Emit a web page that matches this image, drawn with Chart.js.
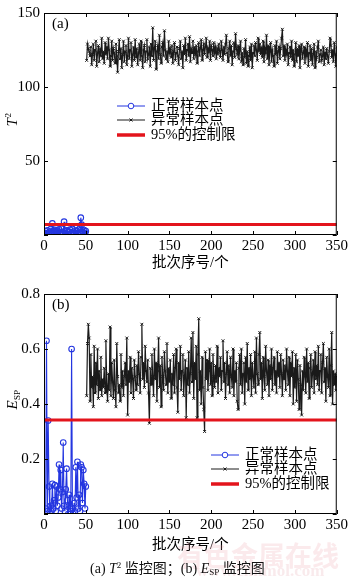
<!DOCTYPE html>
<html>
<head>
<meta charset="utf-8">
<script src="https://cdn.jsdelivr.net/npm/chart.js@4.4.1/dist/chart.umd.min.js"></script>
<style>
  body { margin: 0; width: 350px; height: 580px; background: #fff; position: relative; overflow: hidden;
         font-family: "Liberation Serif", "Noto Sans CJK SC", serif; }
  canvas { position: absolute; left: 0; }
  #t2Chart { top: 0; }
  #espChart { top: 281px; }
  .mark { position: absolute; left: 177px; top: 535px; font-size: 27px; font-weight: bold; letter-spacing: 0;
          color: rgba(235, 160, 170, 0.22); font-family: "Noto Sans CJK SC", sans-serif; white-space: nowrap; }
  .mark2 { position: absolute; left: 196px; top: 561px; font-size: 17px; font-weight: bold;
           color: rgba(225, 150, 160, 0.2); white-space: nowrap; }
  .caption { position: absolute; left: 90px; top: 557px; font-size: 14px; white-space: nowrap; color: #111; }
  .caption sup { font-size: 9px; vertical-align: 5px; }
  .caption sub { font-size: 9px; vertical-align: -2px; }
</style>
</head>
<body>
<canvas id="t2Chart" width="350" height="275"></canvas>
<canvas id="espChart" width="350" height="275"></canvas>
<div class="mark">有色金属在线</div>
<div class="mark2">www.cnnmol.com</div>
<div class="caption">(a) <i>T</i><sup>2</sup> 监控图；(b) <i>E</i><sub>SP</sub> 监控图</div>
<script>
// batches 1-50 are normal samples, 51-350 are faulty ones
const firstNormal = 1;
const firstFault = 51;
const xTicks = [0, 50, 100, 150, 200, 250, 300, 350];

const t2Normal = [
  1.2, 2.5, 0.8, 3.1, 1.5, 0.6, 2.2, 4.0, 1.1, 7.8, 2.6, 0.9, 3.4, 1.8, 0.5, 2.9, 1.3, 3.8, 0.7, 2.1,
  4.3, 1.6, 0.4, 9.0, 2.7, 1.0, 3.2, 0.6, 2.4, 1.9, 3.6, 0.8, 1.4, 4.1, 2.2, 0.7, 3.0, 1.2, 2.8, 0.5,
  3.5, 1.7, 4.4, 11.7, 7.0, 2.3, 0.9, 3.3, 1.5, 2.6
];
const t2Fault = [
  118, 129, 126, 124, 121, 127, 115, 122, 129, 118, 125, 131, 114, 123, 128, 117, 126, 121, 133, 119,
  124, 116, 130, 122, 127, 119, 133, 125, 114, 121, 131, 118, 126, 123, 116, 129, 121, 110, 124, 132,
  119, 126, 113, 122, 131, 117, 124, 128, 115, 121, 133, 119, 125, 130, 114, 122, 127, 118, 132, 120,
  126, 115, 123, 129, 118, 131, 121, 113, 125, 128, 117, 124, 132, 119, 122, 127, 114, 129, 121, 140,
  118, 126, 131, 112, 124, 128, 119, 135, 122, 116, 127, 130, 121, 138, 125, 119, 124, 117, 131, 123,
  126, 120, 128, 116, 124, 130, 118, 123, 127, 121, 115, 126, 131, 119, 124, 113, 128, 122, 133, 118,
  125, 129, 121, 134, 117, 126, 123, 131, 119, 127, 122, 128, 116, 124, 130, 121, 126, 132, 118, 125,
  129, 122, 127, 133, 120, 126, 124, 131, 118, 128, 125, 121, 130, 123, 127, 119, 126, 122, 129, 124,
  120, 131, 125, 118, 127, 122, 129, 135, 123, 117, 126, 131, 121, 128, 115, 124, 130, 120, 136, 126,
  122, 128, 119, 125, 131, 117, 123, 115, 126, 120, 132, 116, 124, 114, 121, 127, 118, 129, 113, 123,
  128, 121, 130, 125, 118, 133, 124, 129, 122, 127, 120, 131, 117, 126, 123, 135, 119, 128, 115, 124,
  130, 117, 125, 121, 114, 128, 122, 131, 116, 124, 127, 119, 126, 133, 139, 121, 128, 118, 125, 122,
  129, 115, 123, 127, 120, 131, 118, 125, 114, 122, 130, 117, 126, 121, 128, 113, 124, 129, 119, 123,
  127, 116, 125, 121, 130, 114, 123, 128, 118, 126, 115, 122, 129, 113, 124, 120, 127, 131, 117, 122,
  125, 118, 121, 127, 115, 123, 119, 126, 121, 116, 124, 133, 128, 120, 125, 117, 130, 122, 114, 127
];
const t2Limit = 7.1;
const t2YTicks = [0, 50, 100, 150];

const espNormal = [
  0.00, 0.02, 0.63, 0.01, 0.34, 0.10, 0.00, 0.03, 0.01, 0.11, 0.02, 0.05, 0.105, 0.01, 0.10, 0.03, 0.06, 0.18, 0.09, 0.16,
  0.02, 0.08, 0.26, 0.03, 0.01, 0.09, 0.165, 0.05, 0.00, 0.07, 0.02, 0.01, 0.60, 0.02, 0.00, 0.04, 0.01, 0.17, 0.06, 0.19,
  0.02, 0.07, 0.01, 0.18, 0.17, 0.04, 0.16, 0.11, 0.02, 0.10
];
const espFault = [
  0.43, 0.62, 0.69, 0.64, 0.41, 0.58, 0.46, 0.50, 0.39, 0.61, 0.44, 0.55, 0.47, 0.60, 0.42, 0.52, 0.45, 0.57, 0.43, 0.49,
  0.46, 0.53, 0.44, 0.63, 0.47, 0.41, 0.51, 0.45, 0.68, 0.43, 0.55, 0.48, 0.42, 0.56, 0.45, 0.39, 0.62, 0.50, 0.44, 0.47,
  0.41, 0.58, 0.46, 0.52, 0.43, 0.50, 0.55, 0.47, 0.64, 0.36, 0.52, 0.48, 0.57, 0.44, 0.53, 0.49, 0.42, 0.56, 0.50, 0.45,
  0.54, 0.47, 0.59, 0.51, 0.44, 0.57, 0.69, 0.49, 0.55, 0.46, 0.61, 0.52, 0.48, 0.56, 0.44, 0.33, 0.53, 0.47, 0.58, 0.50,
  0.43, 0.60, 0.49, 0.55, 0.41, 0.52, 0.64, 0.46, 0.54, 0.39, 0.57, 0.50, 0.45, 0.59, 0.52, 0.47, 0.62, 0.44, 0.53, 0.48,
  0.56, 0.42, 0.51, 0.47, 0.58, 0.44, 0.53, 0.60, 0.46, 0.37, 0.55, 0.49, 0.61, 0.45, 0.52, 0.58, 0.43, 0.50, 0.56, 0.35,
  0.53, 0.47, 0.59, 0.44, 0.51, 0.64, 0.48, 0.66, 0.42, 0.55, 0.49, 0.61, 0.35, 0.58, 0.71, 0.45, 0.52, 0.40, 0.57, 0.46,
  0.38, 0.30, 0.59, 0.49, 0.56, 0.45, 0.52, 0.60, 0.47, 0.55, 0.43, 0.58, 0.50, 0.46, 0.54, 0.48, 0.61, 0.44, 0.53, 0.50,
  0.57, 0.45, 0.52, 0.63, 0.48, 0.55, 0.42, 0.51, 0.59, 0.47, 0.54, 0.44, 0.57, 0.50, 0.46, 0.60, 0.43, 0.52, 0.48, 0.55,
  0.41, 0.38, 0.53, 0.58, 0.47, 0.60, 0.44, 0.51, 0.55, 0.40, 0.57, 0.48, 0.62, 0.45, 0.53, 0.49, 0.58, 0.43, 0.55, 0.50,
  0.46, 0.59, 0.44, 0.64, 0.51, 0.47, 0.58, 0.66, 0.49, 0.55, 0.42, 0.57, 0.50, 0.45, 0.61, 0.52, 0.47, 0.56, 0.43, 0.54,
  0.49, 0.60, 0.45, 0.53, 0.57, 0.47, 0.52, 0.44, 0.59, 0.50, 0.55, 0.46, 0.58, 0.51, 0.43, 0.56, 0.49, 0.54, 0.45, 0.60,
  0.52, 0.47, 0.57, 0.43, 0.55, 0.50, 0.59, 0.40, 0.53, 0.46, 0.58, 0.41, 0.56, 0.49, 0.38, 0.54, 0.47, 0.36, 0.52, 0.45,
  0.57, 0.50, 0.44, 0.60, 0.48, 0.55, 0.42, 0.53, 0.58, 0.46, 0.51, 0.56, 0.44, 0.59, 0.49, 0.54, 0.47, 0.61, 0.45, 0.52,
  0.58, 0.44, 0.55, 0.62, 0.48, 0.53, 0.41, 0.57, 0.50, 0.46, 0.60, 0.43, 0.54, 0.66, 0.40, 0.52, 0.47, 0.51, 0.45, 0.50
];
const espLimit = 0.342;
const espYTicks = [0, 0.2, 0.4, 0.6, 0.8];

const legendLabels = ['正常样本点', '异常样本点', '95%的控制限'];
const xTitle = '批次序号/个';

const BLUE = '#2436e0';
const BLACK = '#1a1a1a';
const RED = '#e3141c';
const SERIF = '"Liberation Serif", "Noto Sans CJK SC", serif';

function points(values, start) {
  return values.map((v, i) => ({ x: start + i, y: v }));
}

// frame, inward ticks, panel tag, axis titles and the in-plot legend
const framePlugin = {
  id: 'frame',
  afterDraw(chart, args, opts) {
    const { ctx, chartArea: a, scales: { x, y } } = chart;
    ctx.save();
    ctx.strokeStyle = '#000';
    ctx.lineWidth = 1;
    ctx.strokeRect(a.left + 0.5, a.top + 0.5, a.width - 1, a.height - 1);

    ctx.beginPath();
    x.ticks.forEach(t => {
      const px = Math.round(x.getPixelForValue(t.value)) + 0.5;
      ctx.moveTo(px, a.bottom); ctx.lineTo(px, a.bottom - 4);
      ctx.moveTo(px, a.top); ctx.lineTo(px, a.top + 4);
    });
    y.ticks.forEach(t => {
      const py = Math.round(y.getPixelForValue(t.value)) + 0.5;
      ctx.moveTo(a.left, py); ctx.lineTo(a.left + 4, py);
      ctx.moveTo(a.right, py); ctx.lineTo(a.right - 4, py);
    });
    ctx.stroke();

    ctx.fillStyle = '#000';
    ctx.font = '15px ' + SERIF;
    ctx.textAlign = 'left';
    ctx.textBaseline = 'middle';
    ctx.fillText(opts.tag, a.left + 8, a.top + 11);

    ctx.font = '14.5px ' + SERIF;
    ctx.textAlign = 'center';
    ctx.fillText(xTitle, (a.left + a.right) / 2, opts.xTitleY);

    // rotated y title with super/subscript
    ctx.save();
    ctx.translate(12, opts.yTitleY);
    ctx.rotate(-Math.PI / 2);
    ctx.textAlign = 'left';
    ctx.textBaseline = 'alphabetic';
    ctx.font = 'italic 15px ' + SERIF;
    const mainW = ctx.measureText(opts.yMain).width;
    ctx.font = '9px ' + SERIF;
    const smallW = ctx.measureText(opts.ySmall).width;
    const x0 = -(mainW + smallW) / 2;
    ctx.font = 'italic 15px ' + SERIF;
    ctx.fillText(opts.yMain, x0, 5);
    ctx.font = '9px ' + SERIF;
    ctx.fillText(opts.ySmall, x0 + mainW + 0.5, opts.ySup ? -1 : 8);
    ctx.restore();

    // legend
    const lg = opts.legend;
    const rows = [0, 14, 29];
    ctx.font = '14.5px ' + SERIF;
    ctx.textAlign = 'left';
    ctx.textBaseline = 'middle';
    legendLabels.forEach((label, i) => {
      const ly = lg.y + rows[i];
      ctx.beginPath();
      if (i === 2) { ctx.strokeStyle = RED; ctx.lineWidth = 3.5; }
      else { ctx.strokeStyle = i === 0 ? BLUE : BLACK; ctx.lineWidth = 1; }
      ctx.moveTo(lg.x, ly); ctx.lineTo(lg.x + 28, ly);
      ctx.stroke();
      const cx = lg.x + 14;
      ctx.lineWidth = 1;
      if (i === 0) {
        ctx.beginPath(); ctx.arc(cx, ly, 2.8, 0, Math.PI * 2);
        ctx.fillStyle = '#fff'; ctx.fill(); ctx.stroke();
      } else if (i === 1) {
        ctx.beginPath();
        ctx.moveTo(cx - 1.5, ly - 1.5); ctx.lineTo(cx + 1.5, ly + 1.5);
        ctx.moveTo(cx - 1.5, ly + 1.5); ctx.lineTo(cx + 1.5, ly - 1.5);
        ctx.stroke();
      }
      ctx.fillStyle = '#000';
      ctx.fillText(label, lg.x + 34, ly + 0.5);
    });
    ctx.restore();
  }
};

function makeChart(id, normal, fault, limit, yTicks, yFmt, xHeight, frameOpts) {
  return new Chart(document.getElementById(id), {
    type: 'line',
    data: {
      datasets: [
        {
          data: [{ x: 0, y: limit }, { x: 350, y: limit }],
          borderColor: RED, borderWidth: 3, pointRadius: 0, order: 0
        },
        {
          data: points(normal, firstNormal),
          borderColor: BLUE, borderWidth: 1.1, pointStyle: 'circle', pointRadius: 2.8,
          pointBorderColor: BLUE, pointBackgroundColor: 'rgba(255,255,255,0)', pointBorderWidth: 1.1, order: 1
        },
        {
          data: points(fault, firstFault),
          borderColor: BLACK, borderWidth: 1.2, pointStyle: 'crossRot', pointRadius: 2,
          pointBorderColor: BLACK, pointBorderWidth: 1, order: 2
        }
      ]
    },
    options: {
      responsive: false,
      animation: false,
      devicePixelRatio: 1,
      layout: { padding: { left: 0, right: 11, top: 4, bottom: 0 } },
      plugins: { legend: { display: false }, tooltip: { enabled: false }, frame: frameOpts },
      scales: {
        x: {
          type: 'linear', min: 0, max: 350,
          afterBuildTicks: s => { s.ticks = xTicks.map(v => ({ value: v })); },
          afterFit: s => { s.height = xHeight; },
          grid: { display: false, drawTicks: false }, border: { display: false },
          ticks: { padding: 2, color: '#000', font: { family: SERIF, size: 15 }, maxRotation: 0 }
        },
        y: {
          type: 'linear', min: yTicks[0], max: yTicks[yTicks.length - 1],
          afterBuildTicks: s => { s.ticks = yTicks.map(v => ({ value: v })); },
          afterFit: s => { s.width = 44; },
          grid: { display: false, drawTicks: false }, border: { display: false },
          ticks: { padding: 4, color: '#000', font: { family: SERIF, size: 15 }, callback: yFmt }
        }
      }
    },
    plugins: [framePlugin]
  });
}

makeChart('t2Chart', t2Normal, t2Fault, t2Limit, t2YTicks,
  v => (v === 0 ? '' : String(v)), 40,
  { tag: '(a)', xTitleY: 263, yTitleY: 120, yMain: 'T', ySmall: '2', ySup: true, legend: { x: 117, y: 106 } });

makeChart('espChart', espNormal, espFault, espLimit, espYTicks,
  v => (v === 0 ? '' : v.toFixed(1)), 42,
  { tag: '(b)', xTitleY: 264, yTitleY: 119, yMain: 'E', ySmall: 'SP', ySup: false, legend: { x: 211, y: 174 } });
</script>
</body>
</html>
